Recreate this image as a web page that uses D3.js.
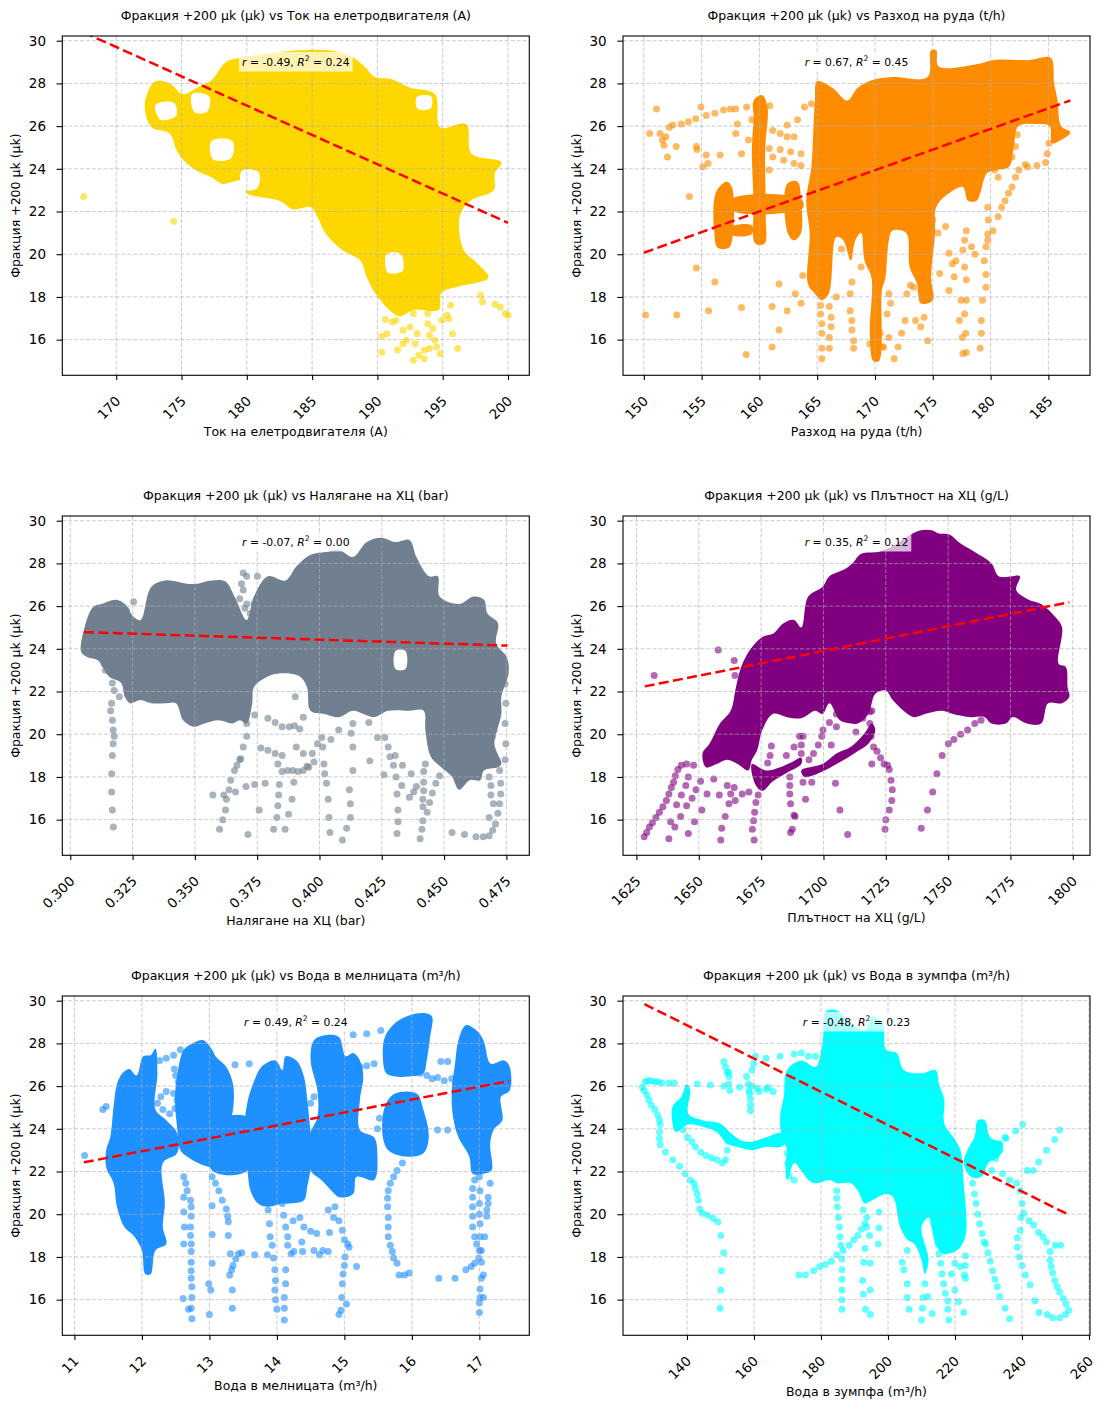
<!DOCTYPE html>
<html>
<head>
<meta charset="utf-8">
<script src="https://cdn.jsdelivr.net/npm/d3@7"></script>
<style>
  body { margin: 0; background: #fff; }
  svg { display: block; }
  text { font-family: "DejaVu Sans", sans-serif; }
</style>
</head>
<body>
<svg id="fig" width="1108" height="1408"></svg>
<script>
// ---- shared values ----
const yLabel = "Фракция +200 µk (µk)";
const xLabels = ["Ток на елетродвигателя (А)", "Разход на руда (t/h)", "Налягане на ХЦ (bar)",
                 "Плътност на ХЦ (g/L)", "Вода в мелницата (m³/h)", "Вода в зумпфа (m³/h)"];
const colors = ["#FFD700", "#FF8C00", "#708090", "#800080", "#1E90FF", "#00FFFF"];
const yDomain = [14.33, 30.22];
const yTicks = [16, 18, 20, 22, 24, 26, 28, 30];
const xDomains = [[165.87, 201.63], [148.2, 188.6], [0.2968, 0.4842], [1619.6, 1806.9], [10.82, 17.74], [120.9, 260.3]];
const xTicks = [
  [170, 175, 180, 185, 190, 195, 200],
  [150, 155, 160, 165, 170, 175, 180, 185],
  [0.300, 0.325, 0.350, 0.375, 0.400, 0.425, 0.450, 0.475],
  [1625, 1650, 1675, 1700, 1725, 1750, 1775, 1800],
  [11, 12, 13, 14, 15, 16, 17],
  [140, 160, 180, 200, 220, 240, 260]
];
const xTickLabels = [
  ["170", "175", "180", "185", "190", "195", "200"],
  ["150", "155", "160", "165", "170", "175", "180", "185"],
  ["0.300", "0.325", "0.350", "0.375", "0.400", "0.425", "0.450", "0.475"],
  ["1625", "1650", "1675", "1700", "1725", "1750", "1775", "1800"],
  ["11", "12", "13", "14", "15", "16", "17"],
  ["140", "160", "180", "200", "220", "240", "260"]
];
const stats = [["-0.49", "0.24"], ["0.67", "0.45"], ["-0.07", "0.00"], ["0.35", "0.12"], ["0.49", "0.24"], ["-0.48", "0.23"]];
const fits = [
  [[167.5, 30.39], [200.0, 21.47]],
  [[150.0, 20.07], [186.9, 27.2]],
  [[0.3055, 24.78], [0.4755, 24.15]],
  [[1628.3, 22.24], [1798.6, 26.18]],
  [[11.14, 22.43], [17.44, 26.24]],
  [[127.3, 29.84], [253.9, 19.98]]
];

// ---- panel 1: dense regions, gaps inside them, sparse points ----
const p1Blobs = [
  [[173.0,28.1],[174.1,28.0],[175.1,27.5],[176.2,27.8],[177.3,28.15],[178.4,29.0],[179.5,29.2],[181.65,29.4],[184.1,29.55],[186.3,29.55],[187.9,29.3],[189.0,28.8],[189.8,28.3],[191.1,28.2],[192.5,27.8],[194.4,27.5],[194.8,25.95],[196.8,26.1],[197.2,24.7],[199.5,24.3],[199.0,23.8],[198.9,23.0],[197.1,22.5],[196.3,21.75],[196.6,20.2],[197.6,19.6],[198.5,18.9],[196.3,18.5],[194.9,18.2],[194.7,17.4],[192.8,17.4],[191.7,17.1],[190.9,17.4],[189.8,18.2],[189.2,18.9],[188.7,19.7],[187.3,20.2],[186.0,21.0],[185.4,21.75],[184.9,22.2],[183.55,22.1],[182.5,22.5],[180.8,22.7],[180.0,22.85],[179.75,23.45],[178.1,23.3],[177.3,23.6],[176.2,23.9],[175.15,24.4],[174.6,24.9],[174.1,25.65],[172.7,25.95],[172.2,26.75],[172.3,27.4]]
];
const p1Gaps = [
  [[173.0,27.0],[174.4,27.1],[174.6,26.5],[173.4,26.3]],
  [[175.8,27.5],[177.1,27.4],[177.0,26.7],[176.0,26.65]],
  [[177.3,25.3],[178.9,25.3],[178.8,24.5],[177.4,24.45]],
  [[179.6,23.9],[180.9,23.85],[180.8,23.1],[179.7,23.05]],
  [[190.7,20.0],[191.8,20.0],[191.9,19.2],[190.8,19.15]],
  [[193.0,27.35],[194.1,27.4],[194.1,26.85],[193.1,26.8]]
];
const p1Points = [[167.5,22.7],[174.4,21.55],[190.33,16.16],[190.33,15.41],[190.6,16.94],[191.14,16.83],[191.54,15.53],[191.95,15.81],[192.22,15.97],[192.76,15.03],[192.9,15.81],[193.17,15.27],[193.58,15.5],[193.98,15.58],[193.58,15.11],[193.04,16.28],[192.76,17.22],[193.31,17.69],[193.85,17.22],[193.85,16.75],[193.98,16.2],[194.25,16.52],[194.39,15.97],[194.53,15.66],[194.8,15.34],[194.93,16.91],[195.34,17.14],[195.61,17.61],[195.75,16.28],[196.15,15.58],[195.47,16.98],[199.0,17.66],[199.4,17.53],[199.8,17.22],[200.0,17.14],[197.9,18.08],[198.05,17.77],[192.49,16.59],[191.95,16.44],[191.41,16.91],[190.73,16.28]];

// ---- panel 2 ----
const p2Blobs = [
  [[165.0,28.1],[166.3,27.8],[167.6,27.2],[168.5,27.8],[169.7,28.15],[171.5,28.3],[174.55,28.3],[174.85,29.55],[175.3,29.55],[175.5,28.8],[178.8,28.9],[180.3,29.1],[183.4,29.1],[185.2,29.2],[185.5,28.0],[185.8,27.2],[186.1,26.0],[186.9,25.7],[186.1,25.35],[185.3,25.2],[185.1,26.0],[184.0,26.1],[182.4,26.0],[182.0,25.0],[181.6,24.1],[180.6,23.95],[179.7,23.8],[179.1,22.85],[178.8,22.5],[178.05,22.5],[177.6,23.15],[176.4,22.85],[175.3,22.2],[175.2,21.0],[174.85,18.9],[175.0,17.85],[173.95,17.7],[173.65,18.6],[173.0,19.4],[172.7,21.0],[171.5,21.1],[171.2,20.65],[170.9,18.9],[170.6,18.3],[170.35,15.0],[169.85,15.0],[169.55,16.3],[169.7,18.9],[169.1,19.7],[168.8,21.0],[168.3,20.65],[167.9,19.7],[167.25,20.65],[166.65,20.8],[166.0,18.15],[165.4,17.85],[164.8,18.15],[164.2,18.6],[164.35,21.0],[164.05,22.5],[164.5,24.1],[164.65,25.65],[164.8,27.2]],
  [[156.25,22.9],[157.2,23.4],[157.65,23.1],[157.65,20.7],[157.35,20.3],[156.4,20.3],[156.1,21.0]],
  [[157.65,22.6],[163.6,22.6],[163.75,22.15],[157.65,22.05]],
  [[159.5,27.2],[160.25,27.45],[160.7,26.9],[160.5,24.9],[160.55,21.75],[160.45,20.5],[159.65,20.5],[159.5,22.5],[159.35,24.9],[159.5,26.4]],
  [[162.4,23.3],[163.3,23.4],[163.6,22.5],[163.6,21.0],[163.0,20.65],[162.45,21.0]],
  [[157.65,21.3],[159.35,21.35],[159.35,20.95],[157.65,20.9]]
];
const p2Gaps = [];
const p2Points = [[150.15,17.15],[150.5,25.65],[151.1,26.8],[151.6,25.35],[151.9,25.5],[152.2,25.95],[152.5,26.05],[152.8,25.05],[153.25,26.1],[153.85,26.2],[154.5,26.35],[154.55,25.05],[154.6,24.9],[154.95,26.9],[155.1,24.1],[155.4,26.5],[155.55,24.25],[155.4,24.65],[156.15,26.6],[156.6,24.65],[156.9,26.75],[157.5,26.8],[157.95,26.8],[158.1,26.1],[157.95,25.65],[158.45,24.7],[158.9,26.9],[153.95,22.7],[154.55,19.35],[156.15,18.7],[158.45,17.5],[152.85,17.15],[155.6,17.35],[158.85,15.3],[161.1,17.55],[161.7,18.6],[161.7,16.45],[161.1,15.65],[162.4,17.35],[163.1,18.15],[163.6,17.7],[163.75,19.0],[151.4,25.65],[151.75,25.1],[152.05,24.55],[160.9,26.95],[162.4,26.05],[163.3,26.3],[163.9,26.9],[164.5,27.05],[161.15,25.8],[161.8,25.65],[162.4,25.5],[163.0,25.5],[161.15,24.55],[162.1,24.4],[163.0,24.25],[163.6,24.15],[160.85,23.95],[160.85,24.95],[161.8,24.9],[162.7,24.8],[163.6,24.7],[159.35,26.3],[159.05,25.35],
  [175.6,19.1],[176.4,18.3],[177.0,19.7],[177.6,20.2],[177.45,17.85],[177.3,16.9],[177.55,16.1],[177.6,15.35],[177.9,15.4],[177.85,16.3],[177.75,17.2],[177.9,17.85],[177.9,18.8],[177.75,19.4],[177.75,20.65],[177.9,21.1],[178.35,20.35],[178.65,20.0],[179.1,15.6],[179.2,16.3],[179.2,16.9],[179.3,17.85],[179.6,18.45],[179.6,19.05],[179.45,19.7],[179.6,20.35],[179.75,20.95],[179.8,21.6],[179.75,22.2],[180.2,21.1],[180.65,21.75],[180.95,22.2],[181.25,22.5],[181.55,22.85],[181.85,23.15],[182.15,23.6],[182.45,23.95],[183.2,24.1],[184.0,24.15],[184.75,24.3],[184.9,24.7],[185.05,25.2],[180.35,23.95],[180.65,23.6],[181.85,24.55],[182.15,25.05],[182.3,25.6],[183.0,24.2],[179.75,20.65],
  [173.95,16.6],[174.25,17.05],[174.55,15.95],[173.5,16.9],[173.35,18.45],[174.55,19.7],[174.85,20.65],[175.0,21.6],[175.45,21.0],[176.1,21.3],[176.4,20.05],[176.7,19.55],[176.85,18.95],[172.6,16.9],[172.3,16.3],[172.0,15.65],[171.65,15.1],[171.2,18.15],[171.35,17.7],[171.05,17.2],[171.2,16.1],[170.75,15.65],[172.75,18.15],[173.05,18.55],[173.95,18.3],[167.1,20.25],[166.65,18.0],[168.0,18.7],[167.85,18.15],[167.85,17.35],[168.0,16.9],[168.0,16.45],[168.15,15.95],[168.15,15.6],[168.8,19.4],[166.05,17.55],[166.2,17.05],[166.2,16.6],[166.05,16.1],[166.05,15.6],[165.3,17.6],[165.3,17.2],[165.4,16.75],[165.4,16.3],[165.4,15.6],[165.4,15.1],[170.3,16.9],[169.55,15.8],[170.45,16.3],[170.6,15.65]];

// ---- panel 3 ----
const p3Blobs = [
  [[0.3044,23.85],[0.3055,24.9],[0.3091,25.95],[0.3126,26.1],[0.3183,26.3],[0.3219,26.1],[0.3254,25.5],[0.3282,25.35],[0.3325,26.9],[0.3382,27.2],[0.3467,27.05],[0.351,27.05],[0.3566,27.2],[0.3623,27.15],[0.3659,26.45],[0.3708,25.35],[0.3737,26.45],[0.3793,27.4],[0.3864,27.2],[0.3907,27.85],[0.3964,28.4],[0.4035,28.55],[0.4077,28.65],[0.4134,28.3],[0.419,29.0],[0.4248,29.2],[0.4304,29.0],[0.4361,29.1],[0.4389,28.3],[0.4439,27.4],[0.4475,27.4],[0.4482,26.45],[0.4561,26.1],[0.4618,26.45],[0.466,26.3],[0.4674,25.65],[0.4716,25.2],[0.4709,24.25],[0.4752,23.6],[0.4759,22.85],[0.473,21.75],[0.473,20.95],[0.4702,19.55],[0.473,18.6],[0.4716,18.45],[0.466,18.3],[0.4645,17.85],[0.4603,17.85],[0.456,17.4],[0.4532,18.0],[0.4489,18.45],[0.4447,18.95],[0.4425,20.2],[0.4418,21.1],[0.4361,21.1],[0.4276,21.1],[0.4219,20.8],[0.4177,20.95],[0.4134,21.1],[0.4077,20.8],[0.4021,20.95],[0.3964,21.1],[0.395,22.2],[0.3921,22.7],[0.385,22.85],[0.3793,22.7],[0.3737,22.2],[0.373,21.45],[0.3708,20.5],[0.368,20.65],[0.3651,20.5],[0.3595,20.65],[0.3538,20.5],[0.3495,20.35],[0.3453,20.65],[0.3424,21.45],[0.3382,21.45],[0.3325,21.45],[0.3282,21.6],[0.324,21.45],[0.3219,21.75],[0.3204,22.4],[0.3155,22.7],[0.3112,23.45],[0.307,23.6]]
];
const p3Gaps = [
  [[0.4305,23.9],[0.4345,23.9],[0.4345,23.05],[0.4305,23.05]]
];
const p3Points = [[0.3169,22.4],[0.3176,22.05],[0.3166,21.45],[0.3162,21.1],[0.3169,20.65],[0.3172,20.2],[0.3176,19.9],[0.3172,19.55],[0.3169,19.0],[0.3166,18.15],[0.3166,17.3],[0.3169,16.45],[0.3173,15.65],
  [0.3572,17.15],[0.3599,15.55],[0.3612,16.0],[0.3623,16.45],[0.3627,16.95],[0.3616,17.15],[0.3637,17.4],[0.3644,17.85],[0.3659,18.3],[0.3669,18.55],[0.3684,18.85],[0.3663,17.3],[0.3705,17.55],[0.3713,15.3],[0.374,17.65],[0.3758,16.45],[0.3782,17.7],[0.3816,15.55],[0.3829,16.1],[0.3833,16.65],[0.3836,17.15],[0.3839,17.65],[0.3833,18.6],[0.3862,15.55],[0.3876,16.25],[0.389,16.95],[0.3897,17.75],[0.3903,21.75],[0.3907,19.4],[0.3935,19.1],[0.395,18.5],[0.3971,19.1],[0.3992,19.55],[0.3978,18.7],[0.4009,19.85],[0.4013,19.4],[0.4018,18.6],[0.4021,18.15],[0.4028,17.7],[0.4035,16.95],[0.4038,16.1],[0.4042,15.4],[0.4046,19.75],[0.4077,20.2],[0.4092,15.05],[0.4109,15.6],[0.412,17.4],[0.4124,16.75],[0.4124,16.1],[0.4134,18.3],[0.4134,19.4],[0.4127,20.05],[0.4134,20.5],[0.4202,18.75],[0.4198,20.55],[0.4233,19.85],[0.4262,19.85],[0.4259,18.1],[0.4276,19.4],[0.4283,18.95],[0.4297,18.55],[0.4304,19.0],[0.4307,18.0],[0.4311,17.2],[0.4315,16.45],[0.4315,15.9],[0.4311,15.35],[0.433,17.6],[0.4333,18.55],[0.4361,17.05],[0.4368,18.15],[0.4378,17.3],[0.4389,17.55],[0.4404,15.1],[0.4411,15.55],[0.4415,15.95],[0.4415,16.6],[0.4415,16.95],[0.4418,17.35],[0.4418,17.75],[0.4418,18.25],[0.4425,18.6],[0.4432,16.35],[0.4442,16.8],[0.4453,17.25],[0.4467,17.7],[0.4482,18.05],[0.4496,18.6],[0.4532,15.4],[0.4582,15.3],[0.4628,15.2],[0.4657,15.2],[0.4681,15.25],[0.4695,15.5],[0.4706,15.8],[0.4716,16.3],[0.4723,16.75],[0.4727,17.2],[0.4727,17.7],[0.4723,18.3],[0.4674,18.55],[0.4681,18.0],[0.4688,17.6],[0.4688,17.15],[0.4698,16.75],[0.4681,16.1],[0.4745,22.35],[0.4748,21.45],[0.4745,20.5],[0.4748,19.55],[0.4745,18.8],[0.4695,21.45],[0.4695,20.5],[0.4702,20.2],[0.4695,19.9],
  [0.3254,26.2],[0.3226,25.8],[0.3197,25.65],[0.3183,25.2],[0.3169,24.25],[0.3141,24.1],[0.3126,23.8],[0.3135,23.3],[0.3141,23.0],[0.3212,23.0],[0.3233,22.05],[0.3197,21.75],[0.324,21.75],
  [0.3694,27.55],[0.3708,27.4],[0.3751,27.4],[0.3687,27.05],[0.3694,26.75],[0.368,26.35],[0.3708,26.1],[0.3737,26.1],[0.3722,25.65],[0.3701,25.9],
  [0.374,20.9],[0.3793,20.75],[0.3822,20.55],[0.385,20.35],[0.3879,20.35],[0.39,20.4],[0.3921,20.25],[0.3935,20.8],[0.3708,19.9],[0.3694,19.4],[0.368,18.8],[0.3708,20.5],
  [0.385,18.25],[0.3872,18.3],[0.3893,18.3],[0.3914,18.25],[0.3935,18.3],[0.3957,18.45],[0.3765,19.35],[0.3793,19.25],[0.3822,19.1],[0.385,19.0]];

// ---- panel 4 ----
const p4Blobs = [
  [[1651.5,19.1],[1654.3,19.55],[1658.5,20.5],[1662.8,21.1],[1664.9,22.2],[1667.0,23.15],[1670.5,23.95],[1675.5,24.55],[1679.7,24.7],[1684.0,25.2],[1688.2,25.35],[1691.1,25.0],[1693.9,26.45],[1699.6,26.9],[1702.4,27.4],[1708.0,27.7],[1711.6,28.0],[1715.1,28.45],[1722.2,28.55],[1727.8,28.8],[1733.5,29.25],[1739.1,29.55],[1743.4,29.55],[1746.2,29.4],[1750.5,29.35],[1754.7,28.95],[1761.8,28.45],[1767.4,28.0],[1770.3,27.4],[1775.9,27.4],[1778.8,27.4],[1777.3,26.75],[1782.3,26.3],[1787.3,26.1],[1792.9,25.5],[1795.7,25.0],[1794.3,23.3],[1797.2,23.15],[1797.9,22.2],[1798.6,21.75],[1795.7,21.45],[1790.1,21.45],[1787.3,20.5],[1781.6,20.5],[1775.9,20.8],[1773.1,20.5],[1767.4,20.5],[1764.6,20.8],[1759.0,20.8],[1751.9,20.95],[1747.6,21.1],[1740.6,20.95],[1736.3,20.8],[1732.1,21.1],[1727.8,21.6],[1725.0,22.05],[1720.8,21.9],[1718.0,20.95],[1713.7,20.5],[1710.9,20.5],[1706.6,20.65],[1702.4,21.45],[1699.6,20.95],[1696.7,21.1],[1691.1,20.75],[1685.4,20.8],[1679.7,20.95],[1675.5,20.2],[1673.4,19.25],[1671.3,18.8],[1669.8,18.3],[1665.6,18.6],[1661.4,18.8],[1657.1,18.6],[1652.9,18.45]],
  [[1671.3,18.6],[1677.0,18.3],[1682.6,18.45],[1688.2,18.75],[1691.1,18.9],[1691.1,18.6],[1685.4,18.2],[1679.7,17.8],[1675.5,17.35],[1672.7,17.65]],
  [[1691.1,18.3],[1699.6,18.6],[1705.2,19.1],[1710.9,19.4],[1716.5,20.05],[1719.4,20.5],[1720.8,20.2],[1718.0,19.55],[1712.3,19.1],[1705.2,18.6],[1699.6,18.25],[1692.5,18.0]]
];
const p4Gaps = [];
const p4Points = [[1628.1,15.2],[1629.1,15.4],[1630.2,15.65],[1631.4,15.85],[1632.8,16.1],[1634.2,16.35],[1635.6,16.6],[1637.0,16.9],[1638.0,17.2],[1639.0,17.5],[1639.9,17.75],[1640.6,18.05],[1641.6,18.35],[1643.0,18.55],[1645.1,18.6],[1647.9,18.55],[1632.1,22.75],[1657.8,23.95],[1664.2,23.45],[1664.5,22.75],[1638.0,15.1],[1638.7,15.9],[1640.4,15.65],[1641.1,16.7],[1643.0,17.15],[1642.7,16.15],[1644.8,17.6],[1645.8,18.0],[1645.8,15.35],[1645.1,16.65],[1647.3,17.0],[1648.3,15.9],[1648.9,17.4],[1650.7,17.8],[1651.2,16.45],[1653.3,17.2],[1656.0,17.9],[1658.8,15.05],[1658.2,17.15],[1659.2,15.6],[1660.6,16.15],[1661.4,17.6],[1662.1,16.75],[1662.8,17.2],[1664.2,17.5],[1664.6,16.9],[1667.4,17.2],[1670.1,17.3],[1671.5,15.55],[1672.0,15.95],[1672.4,16.35],[1672.2,15.05],[1672.9,16.8],[1673.8,17.15],[1677.6,18.65],[1678.6,19.0],[1679.1,19.45],[1685.1,19.0],[1686.5,18.0],[1686.5,17.6],[1686.5,17.2],[1686.8,16.75],[1686.8,15.4],[1687.5,15.55],[1688.2,16.2],[1688.6,16.15],[1688.2,19.4],[1690.4,19.9],[1691.1,19.5],[1691.1,19.1],[1691.8,19.9],[1691.8,17.75],[1692.8,16.95],[1694.2,18.8],[1696.0,19.1],[1695.3,17.75],[1697.9,19.5],[1699.3,19.9],[1699.8,20.2],[1702.4,20.55],[1703.1,19.5],[1705.2,20.95],[1705.2,20.35],[1706.9,21.2],[1704.8,17.7],[1706.6,16.45],[1709.7,15.3],[1713.0,20.1],[1715.8,20.75],[1718.6,21.05],[1719.4,21.1],[1718.6,20.5],[1719.1,19.9],[1719.4,18.6],[1720.1,19.4],[1721.5,19.2],[1722.9,18.9],[1724.3,18.6],[1725.7,18.55],[1726.4,18.35],[1727.1,17.85],[1727.6,17.4],[1727.4,16.9],[1726.4,16.45],[1725.0,16.0],[1724.7,15.55],[1739.2,15.6],[1741.7,16.45],[1743.8,17.3],[1745.5,18.15],[1747.6,19.0],[1750.1,19.55],[1752.3,19.75],[1755.0,20.0],[1757.8,20.2],[1760.7,20.5],[1763.2,20.65]];

// ---- panel 5 ----
const p5Blobs = [
  [[11.53,23.6],[11.58,25.05],[11.63,26.1],[11.71,26.6],[11.81,26.8],[11.92,26.5],[12.02,27.4],[12.13,27.45],[12.2,27.75],[12.23,26.6],[12.2,24.9],[12.36,24.4],[12.52,23.8],[12.52,22.85],[12.31,22.4],[12.34,20.5],[12.31,19.4],[12.36,18.6],[12.2,18.3],[12.13,17.2],[12.05,17.2],[12.0,18.3],[11.89,18.95],[11.74,19.4],[11.63,20.35],[11.58,21.45],[11.47,22.2],[11.47,23.0]],
  [[12.52,26.45],[12.62,27.7],[12.75,28.0],[12.91,28.15],[13.04,27.7],[13.09,27.4],[13.25,26.9],[13.35,26.1],[13.35,24.9],[13.25,23.6],[13.25,22.4],[13.04,22.2],[12.83,22.4],[12.67,22.7],[12.57,23.0],[12.52,24.1],[12.49,25.35]],
  [[13.04,24.25],[13.56,24.55],[13.56,22.05],[13.04,22.05]],
  [[13.56,25.2],[13.67,26.3],[13.77,26.9],[13.98,27.2],[14.08,26.75],[14.13,27.4],[14.29,27.2],[14.4,26.45],[14.45,25.35],[14.5,23.6],[14.5,22.2],[14.45,21.3],[14.4,20.65],[14.19,20.5],[14.08,20.5],[13.87,20.35],[13.72,20.5],[13.61,21.1],[13.56,22.2],[13.51,23.6]],
  [[14.5,27.2],[14.55,28.15],[14.76,28.4],[14.92,28.3],[15.02,27.4],[15.13,27.55],[15.23,27.2],[15.28,26.45],[15.23,25.35],[15.23,23.95],[15.44,23.6],[15.49,22.7],[15.44,21.6],[15.18,21.75],[15.13,20.95],[14.92,20.8],[14.81,21.1],[14.66,21.6],[14.5,22.05],[14.47,23.6],[14.6,24.55],[14.6,25.8]],
  [[15.6,28.3],[15.75,28.95],[15.91,29.25],[16.07,29.4],[16.22,29.4],[16.3,29.25],[16.27,28.3],[16.22,27.2],[16.17,26.6],[15.96,26.45],[15.75,26.45],[15.62,26.6],[15.57,27.4]],
  [[15.6,25.05],[15.75,25.65],[16.07,25.65],[16.17,24.9],[16.25,23.6],[16.17,22.85],[15.91,22.7],[15.65,23.0],[15.57,23.6]],
  [[16.69,28.15],[16.8,28.85],[16.96,28.6],[17.06,28.15],[17.17,27.05],[17.37,27.2],[17.45,26.9],[17.45,25.8],[17.32,25.5],[17.34,24.4],[17.21,23.95],[17.16,23.3],[17.18,22.05],[17.06,21.9],[16.9,21.9],[16.85,22.7],[16.69,23.6],[16.61,24.55],[16.59,25.8],[16.64,27.05]]
];
const p5Gaps = [];
const p5Points = [[11.15,22.75],[11.42,24.9],[11.47,25.05],[12.26,27.2],[12.36,27.3],[12.47,27.45],[12.57,27.7],[12.48,26.8],[12.5,26.5],[12.54,26.2],
  [12.28,25.5],[12.36,25.75],[12.47,25.65],[12.52,25.35],[12.49,24.95],[12.41,24.7],[12.31,24.9],[12.23,25.2],
  [12.62,21.75],[12.65,21.45],[12.67,21.1],[12.72,20.65],[12.73,20.35],[12.73,19.9],[12.72,19.4],[12.72,19.0],[12.73,18.6],[12.73,18.25],[12.73,17.75],[12.73,17.35],[12.73,17.0],[12.74,16.6],[12.74,16.1],[12.73,15.6],[12.74,15.1],[12.62,20.8],[12.62,20.1],[12.63,19.4],[12.62,18.6],[12.61,16.05],[12.69,15.55],
  [13.04,21.75],[13.09,21.45],[13.14,21.1],[13.19,20.65],[13.25,20.25],[13.27,19.9],[13.28,19.65],[13.04,20.4],[13.04,19.05],[13.04,17.7],[13.0,15.3],[12.99,16.75],[13.02,16.45],[13.28,19.0],[13.3,17.15],[13.33,17.4],[13.35,17.6],[13.39,17.9],[13.43,18.15],[13.48,18.2],[13.31,18.15],[13.34,16.45],[13.34,15.6],[13.38,27.0],[13.59,27.05],
  [13.67,18.1],[13.86,18.1],[13.87,20.2],[13.89,19.55],[13.9,18.95],[13.93,18.55],[13.95,17.95],[13.97,17.4],[13.98,16.9],[13.97,16.45],[13.98,16.0],[14.0,15.55],[14.08,20.5],[14.1,19.95],[14.13,19.4],[14.16,18.95],[14.16,18.55],[14.13,17.4],[14.13,16.75],[14.11,16.1],[14.11,15.6],[14.11,15.05],[14.21,18.15],[14.25,18.25],[14.37,18.7],[14.38,18.25],[14.24,19.7],[14.34,19.85],[14.4,19.4],[14.5,19.2],[14.59,19.1],[14.55,18.3],[14.63,18.1],[14.68,18.3],[14.76,18.25],[14.78,19.15],[14.84,19.85],[14.86,20.35],[14.76,20.2],[14.5,25.2],[14.55,25.5],
  [14.92,15.3],[14.95,15.5],[14.96,16.1],[14.97,16.75],[14.98,17.2],[15.0,17.6],[15.01,18.0],[15.0,18.8],[14.97,19.25],[14.92,19.7],[15.03,15.8],[15.05,18.6],[15.07,18.45],[15.18,17.55],[15.07,22.7],[15.49,24.0],[15.52,24.5],[15.68,24.75],[15.44,27.05],[15.33,26.95],[15.23,26.9],[15.13,28.4],[15.33,28.45],[15.54,28.6],
  [16.01,26.75],[16.12,26.6],[16.22,26.5],[16.3,26.35],[16.43,27.15],[16.53,27.15],[16.38,26.4],[16.48,26.25],[16.59,26.35],
  [15.86,22.4],[15.78,22.05],[15.73,21.75],[15.68,21.45],[15.65,21.1],[15.64,20.75],[15.64,20.35],[15.65,19.85],[15.65,19.4],[15.65,18.95],[15.68,18.55],[15.71,18.25],[15.73,17.95],[15.78,17.7],[15.81,17.15],[15.89,17.15],[15.96,17.25],[16.38,23.95],[16.53,23.95],
  [16.64,17.0],[16.4,17.0],[16.8,17.4],[16.88,17.55],[16.93,17.7],[16.99,17.95],[17.0,18.3],[16.96,18.6],[16.93,18.95],[16.9,19.4],[16.9,19.9],[16.9,20.35],[16.9,20.8],[16.9,21.2],[16.93,21.6],[17.0,21.75],[17.01,21.1],[17.0,20.5],[17.0,20.0],[17.01,19.55],[17.01,18.95],[17.03,18.3],[17.03,17.75],[17.03,17.0],[17.01,16.5],[17.01,16.1],[17.0,15.85],[17.0,15.4],[17.06,16.1],[17.06,17.15],[17.08,18.95],[17.11,19.9],[17.11,20.2],[17.13,20.8],[17.16,21.45],[17.11,22.2],[17.13,20.5]];

// ---- panel 6 ----
const p6Blobs = [
  [[167.8,24.55],[168.9,25.5],[169.9,26.75],[174.1,27.2],[178.35,26.9],[180.45,28.0],[181.5,29.5],[184.7,29.55],[187.8,29.1],[193.1,28.6],[195.2,29.25],[198.4,28.95],[199.4,27.7],[202.6,27.55],[204.7,26.75],[210.0,26.6],[214.2,26.75],[215.2,26.1],[216.8,25.35],[216.8,24.25],[219.5,23.6],[221.6,23.0],[222.6,21.45],[223.1,18.95],[220.5,18.3],[216.3,18.15],[214.2,18.6],[212.1,19.85],[210.0,19.4],[212.1,17.85],[211.0,17.2],[210.0,17.85],[207.9,18.6],[205.8,18.8],[203.65,19.4],[201.55,20.8],[199.4,20.95],[195.2,20.65],[193.1,20.5],[191.0,21.1],[188.9,21.45],[184.7,21.45],[182.6,21.6],[178.35,21.45],[176.25,21.6],[174.1,22.05],[172.0,22.4],[169.9,21.6],[169.4,22.4],[169.9,23.0],[168.3,23.6]],
  [[223.7,23.0],[225.8,23.6],[226.8,24.4],[228.9,24.4],[230.5,23.6],[234.2,23.3],[233.2,22.7],[230.0,22.4],[227.9,21.75],[224.75,21.75],[222.6,22.4]],
  [[135.7,25.05],[138.3,25.5],[139.9,26.1],[140.95,25.8],[140.4,24.7],[144.6,24.4],[149.9,24.25],[153.1,23.8],[156.2,23.45],[159.4,23.4],[163.6,23.6],[167.8,23.8],[169.9,23.45],[167.8,23.15],[163.6,23.15],[159.4,23.0],[155.2,23.15],[152.0,23.3],[148.85,23.85],[144.6,24.1],[140.4,24.2],[136.7,23.85],[135.7,24.25]]
];
const p6Gaps = [];
const p6Points = [[126.7,25.95],[127.55,26.2],[128.3,26.25],[129.35,26.25],[130.4,26.2],[131.45,26.2],[132.5,26.15],[134.6,26.15],[136.2,26.15],[143.05,26.1],[146.95,26.05],[151.0,26.0],[155.7,25.95],[159.4,26.0],[161.0,25.9],[164.15,25.95],[165.7,25.75],[161.5,25.75],[158.7,25.65],
  [127.2,25.8],[128.0,25.6],[128.6,25.35],[129.35,25.1],[130.4,24.9],[131.25,24.65],[131.8,24.4],[132.0,24.2],[131.8,23.85],[131.8,23.55],[132.0,23.25],[133.6,22.9],[135.7,22.55],[137.8,22.25],[139.4,21.9],[141.0,21.6],[142.1,21.45],[142.5,21.2],[143.05,20.95],[143.4,20.65],[143.8,20.25],[144.6,20.05],[146.2,19.95],[147.8,19.8],[149.2,19.65],[150.1,19.0],[150.95,18.2],[150.3,17.35],[150.1,16.45],[149.9,15.6],
  [138.85,23.95],[140.2,23.6],[141.5,23.4],[142.5,23.15],[144.1,22.9],[145.7,22.75],[147.3,22.65],[148.85,22.55],[150.5,22.4],[151.5,22.55],[152.0,23.0],[152.2,23.45],
  [151.0,27.15],[151.5,26.9],[152.0,26.65],[152.5,26.45],[152.5,26.1],[152.8,25.8],[152.5,26.65],
  [157.8,26.45],[158.3,26.1],[158.5,25.8],[158.85,25.4],[158.95,25.1],[158.95,24.85],[159.4,26.75],[159.9,27.05],
  [160.45,27.4],[163.6,27.3],[167.8,27.4],[172.0,27.5],[174.1,27.55],[176.25,27.4],[178.35,27.4],[163.6,25.85],
  [169.9,22.85],[170.1,22.4],[170.45,21.8],[172.0,21.6],
  [184.7,21.1],[184.7,20.75],[184.9,20.35],[185.2,19.85],[185.5,19.4],[185.7,18.95],[185.9,18.55],[186.25,17.9],[186.25,17.4],[186.25,16.95],[186.25,16.45],[186.25,16.0],[186.25,15.55],
  [173.4,17.15],[175.4,17.15],[177.8,17.35],[179.6,17.55],[181.3,17.65],[183.1,17.8],[184.7,18.1],[186.6,18.3],[188.4,18.55],[189.75,18.8],[191.0,19.0],[192.05,19.3],[193.1,19.55],[193.65,19.85],[192.6,20.2],
  [192.4,16.9],[192.8,17.75],[193.1,18.4],[192.6,16.25],[193.3,15.55],[194.7,15.3],[194.7,16.45],[194.7,17.7],[194.5,19.0],[193.65,19.4],[197.1,18.6],[197.3,19.35],[197.3,20.1],[206.3,20.35],
  [205.75,16.75],[205.75,16.1],[206.3,15.55],[204.7,17.4],[204.2,17.75],[205.75,18.3],[206.8,19.85],[207.85,19.4],
  [210.0,15.05],[210.3,15.6],[210.5,16.1],[211.0,16.75],[211.9,16.15],[213.2,15.35],[213.65,19.55],[214.0,19.4],
  [214.7,18.95],[215.0,18.6],[215.2,18.15],[215.75,17.7],[216.1,17.2],[216.6,16.75],[217.1,16.3],[217.85,15.95],[217.85,15.55],[218.15,15.05],[218.9,17.2],[219.95,16.45],[219.95,17.7],[221.0,15.9],[221.55,17.55],[222.6,15.4],[222.8,17.15],[223.1,17.0],[223.1,17.6],[223.1,18.05],
  [225.25,21.45],[225.8,20.95],[226.3,20.5],[226.8,20.0],[227.35,19.55],[228.1,19.1],[228.7,18.7],[229.15,18.6],[229.8,18.2],[230.5,17.8],[231.2,17.35],[231.9,16.95],[232.6,16.6],[233.35,16.15],[234.95,15.6],[236.3,15.1],
  [234.95,23.6],[238.1,23.9],[240.2,24.2],[233.35,23.3],[232.1,22.6],[231.0,22.05],[234.2,21.9],[236.3,21.6],[238.4,21.45],[239.45,21.1],[240.0,20.5],[239.65,19.85],[239.45,19.25],[238.6,18.9],[238.6,18.45],[239.2,18.0],[240.0,17.6],[241.0,17.15],[242.4,16.7],[243.9,15.95],[245.05,15.4],[247.55,15.3],[249.15,15.15],[251.25,15.15],[252.95,15.3],[254.0,15.5],[253.2,15.8],[252.3,16.05],[251.25,16.35],[250.5,16.6],[249.8,16.9],[249.15,17.25],[248.7,17.55],[248.4,17.85],[248.4,18.25],[249.9,18.55],[251.5,18.55],[247.3,18.7],[246.3,18.95],[244.95,19.15],[243.5,19.5],[242.1,19.7],[240.5,20.05],[241.55,22.05],[243.4,22.05],[244.95,22.45],[247.3,23.0],[249.75,23.5],[251.25,23.95],[235.2,23.55],[233.35,23.0]];

// ---- layout ----
const colsX = [62.3, 623];
const rowsY = [36, 516, 996];
const plotW = 467, plotH = 339.3;

const blobSets = [p1Blobs, p2Blobs, p3Blobs, p4Blobs, p5Blobs, p6Blobs];
const gapSets = [p1Gaps, p2Gaps, p3Gaps, p4Gaps, p5Gaps, p6Gaps];
const pointSets = [p1Points, p2Points, p3Points, p4Points, p5Points, p6Points];

const panels = xLabels.map((xl, i) => ({
  title: yLabel + " vs " + xl, xLabel: xl, color: colors[i],
  xDomain: xDomains[i], xTicks: xTicks[i], xTickLabels: xTickLabels[i],
  blobs: blobSets[i], gaps: gapSets[i], points: pointSets[i], fit: fits[i], stat: stats[i]
}));

const svg = d3.select("#fig");

panels.forEach((p, i) => {
  const L = colsX[i % 2], T = rowsY[Math.floor(i / 2)];
  const x = d3.scaleLinear().domain(p.xDomain).range([L, L + plotW]);
  const y = d3.scaleLinear().domain(yDomain).range([T + plotH, T]);
  const line = d3.line().x(d => x(d[0])).y(d => y(d[1]));
  const shape = d3.line().x(d => x(d[0])).y(d => y(d[1])).curve(d3.curveCatmullRomClosed.alpha(0.5));
  const g = svg.append("g");

  g.append("clipPath").attr("id", "clip" + i)
    .append("rect").attr("x", L).attr("y", T).attr("width", plotW).attr("height", plotH);
  const plot = g.append("g").attr("clip-path", `url(#clip${i})`);

  // dense parts of the cloud
  plot.selectAll("path.blob").data(p.blobs).join("path").attr("class", "blob")
    .attr("d", shape).attr("fill", p.color);
  plot.selectAll("path.gap").data(p.gaps).join("path").attr("class", "gap")
    .attr("d", shape).attr("fill", "#fff");

  // single points
  plot.selectAll("circle").data(p.points).join("circle")
    .attr("cx", d => x(d[0])).attr("cy", d => y(d[1])).attr("r", 3.5)
    .attr("fill", p.color).attr("fill-opacity", 0.6);

  // grid sits above the scatter
  const grid = plot.append("g").attr("stroke", "#b0b0b0").attr("stroke-opacity", 0.7)
    .attr("stroke-width", 0.9).attr("stroke-dasharray", "4.1,1.8");
  grid.selectAll("line.gx").data(p.xTicks).join("line").attr("class", "gx")
    .attr("x1", d => x(d)).attr("x2", d => x(d)).attr("y1", T).attr("y2", T + plotH);
  grid.selectAll("line.gy").data(yTicks).join("line").attr("class", "gy")
    .attr("x1", L).attr("x2", L + plotW).attr("y1", d => y(d)).attr("y2", d => y(d));

  // regression line
  plot.append("path").attr("d", line(p.fit)).attr("fill", "none")
    .attr("stroke", "#ff0000").attr("stroke-width", 2.5).attr("stroke-dasharray", "10,4.4");

  // r / R² note
  const note = g.append("g");
  const nt = note.append("text").attr("x", L + plotW / 2).attr("y", T + 30)
    .attr("text-anchor", "middle").attr("font-size", 10.8).style("white-space", "pre");
  nt.append("tspan").attr("font-style", "italic").text("r");
  nt.append("tspan").text(" = " + p.stat[0] + ", ");
  nt.append("tspan").attr("font-style", "italic").text("R");
  nt.append("tspan").attr("font-size", 7.6).attr("dy", -4.6).text("2");
  nt.append("tspan").attr("dy", 4.6).text(" = " + p.stat[1]);
  const bb = nt.node().getBBox();
  note.insert("rect", "text").attr("x", bb.x - 3).attr("y", bb.y - 2.5)
    .attr("width", bb.width + 6).attr("height", bb.height + 5)
    .attr("fill", "#fff").attr("fill-opacity", 0.7);

  // frame
  g.append("rect").attr("x", L).attr("y", T).attr("width", plotW).attr("height", plotH)
    .attr("fill", "none").attr("stroke", "#000").attr("stroke-width", 1.1);

  // axes
  const xa = g.append("g").attr("transform", `translate(0,${T + plotH})`)
    .call(d3.axisBottom(x).tickValues(p.xTicks).tickFormat((d, j) => p.xTickLabels[j])
      .tickSize(4.7).tickPadding(0));
  xa.select(".domain").remove();
  xa.attr("font-size", 13.5).attr("font-family", "DejaVu Sans, sans-serif");
  xa.selectAll("line").attr("stroke-width", 1.1);
  xa.selectAll("text").attr("text-anchor", "end").attr("dy", null)
    .attr("x", 4.7).attr("y", 26.7).attr("transform", "rotate(-45,4.7,26.7)").attr("fill", "#000");

  const ya = g.append("g").attr("transform", `translate(${L},0)`)
    .call(d3.axisLeft(y).tickValues(yTicks).tickFormat(d3.format("d")).tickSize(5.7).tickPadding(10.6));
  ya.select(".domain").remove();
  ya.attr("font-size", 13.5).attr("font-family", "DejaVu Sans, sans-serif");
  ya.selectAll("line").attr("stroke-width", 1.1);
  ya.selectAll("text").attr("fill", "#000");

  const maxW = d3.max(xa.selectAll("text").nodes(), n => n.getComputedTextLength());

  g.append("text").attr("x", L + plotW / 2).attr("y", T + plotH + 26.7 + 0.707 * maxW + 16)
    .attr("text-anchor", "middle").attr("font-size", 12.5).text(p.xLabel);
  g.append("text").attr("transform", `translate(${L - 42.5},${T + plotH / 2}) rotate(-90)`)
    .attr("text-anchor", "middle").attr("font-size", 12.5).text(yLabel);
  g.append("text").attr("x", L + plotW / 2).attr("y", T - 16)
    .attr("text-anchor", "middle").attr("font-size", 12.5).text(p.title);
});
</script>
</body>
</html>
